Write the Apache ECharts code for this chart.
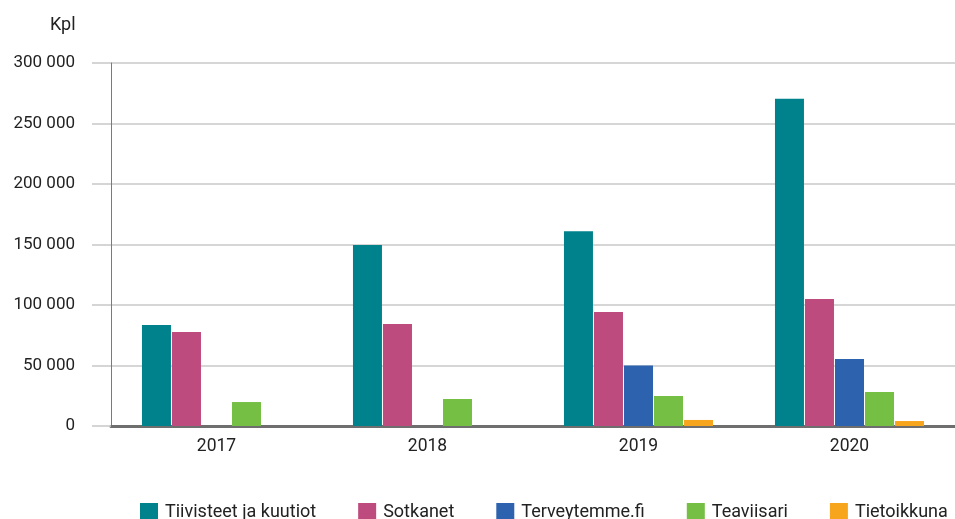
<!DOCTYPE html>
<html>
<head>
<meta charset="utf-8">
<script src="https://cdn.jsdelivr.net/npm/echarts@6/dist/echarts.min.js"></script>
<style>
	html, body { margin: 0; padding: 0; background: #fff; }
	#chart { width: 955px; height: 519px; }
</style>
</head>
<body>
<div id="chart"></div>
<script>
var years = ['2017', '2018', '2019', '2020'];
var seriesNames = ['Tiivisteet ja kuutiot', 'Sotkanet', 'Terveytemme.fi', 'Teaviisari', 'Tietoikkuna'];
var seriesColors = ['#00828c', '#be4b7d', '#2d62ae', '#74bf44', '#f8a51e'];
var tiivisteet = [83500, 149500, 161000, 270500];
var sotkanet = [77600, 84200, 94200, 105000];
var terveytemme = [null, null, 50000, 55300];
var teaviisari = [19800, 22300, 24800, 28100];
var tietoikkuna = [null, null, 5000, 4100];
var allValues = [tiivisteet, sotkanet, terveytemme, teaviisari, tietoikkuna];
var yTicks = { min: 0, max: 300000, interval: 50000 };

var font = 'Roboto, "Noto Sans", sans-serif';

function fmt(v) {
	// thousands separated by a space
	return String(v).replace(/\B(?=(\d{3})+(?!\d))/g, ' ');
}

var series = [];
for (var i = 0; i < seriesNames.length; i++) {
	series.push({
		name: seriesNames[i],
		type: 'bar',
		data: allValues[i],
		barWidth: 29,
		barGap: '3.5%',
		itemStyle: { color: seriesColors[i] }
	});
}

var chart = echarts.init(document.getElementById('chart'));
chart.setOption({
	animation: false,
	title: {
		text: 'Kpl',
		left: 45,
		top: 11,
		textStyle: { fontFamily: font, fontSize: 18, fontWeight: 'normal', color: '#222' }
	},
	grid: { left: 111, right: -4, top: 63, bottom: 93, containLabel: false },
	legend: {
		data: seriesNames,
		left: 140,
		top: 503,
		padding: 0,
		width: 860,
		itemWidth: 18,
		itemHeight: 18,
		itemGap: 42,
		icon: 'rect',
		textStyle: { fontFamily: font, fontSize: 18, color: '#222', padding: [0, 0, 2, 2] }
	},
	xAxis: {
		type: 'category',
		data: years,
		axisLine: { lineStyle: { color: '#6e6e6e', width: 3 } },
		axisTick: { show: false },
		axisLabel: { fontFamily: font, fontSize: 17.5, color: '#222', margin: 12 }
	},
	yAxis: {
		type: 'value',
		min: yTicks.min,
		max: yTicks.max,
		interval: yTicks.interval,
		axisLine: { show: true, lineStyle: { color: '#7a7a7a', width: 1 } },
		axisTick: { show: true, length: 19, lineStyle: { color: '#c8c8c8', width: 1.5 } },
		splitLine: { lineStyle: { color: '#c8c8c8', width: 1.5 } },
		axisLabel: { fontFamily: font, fontSize: 17, color: '#222', margin: 36, formatter: fmt }
	},
	series: series
});
</script>
</body>
</html>
